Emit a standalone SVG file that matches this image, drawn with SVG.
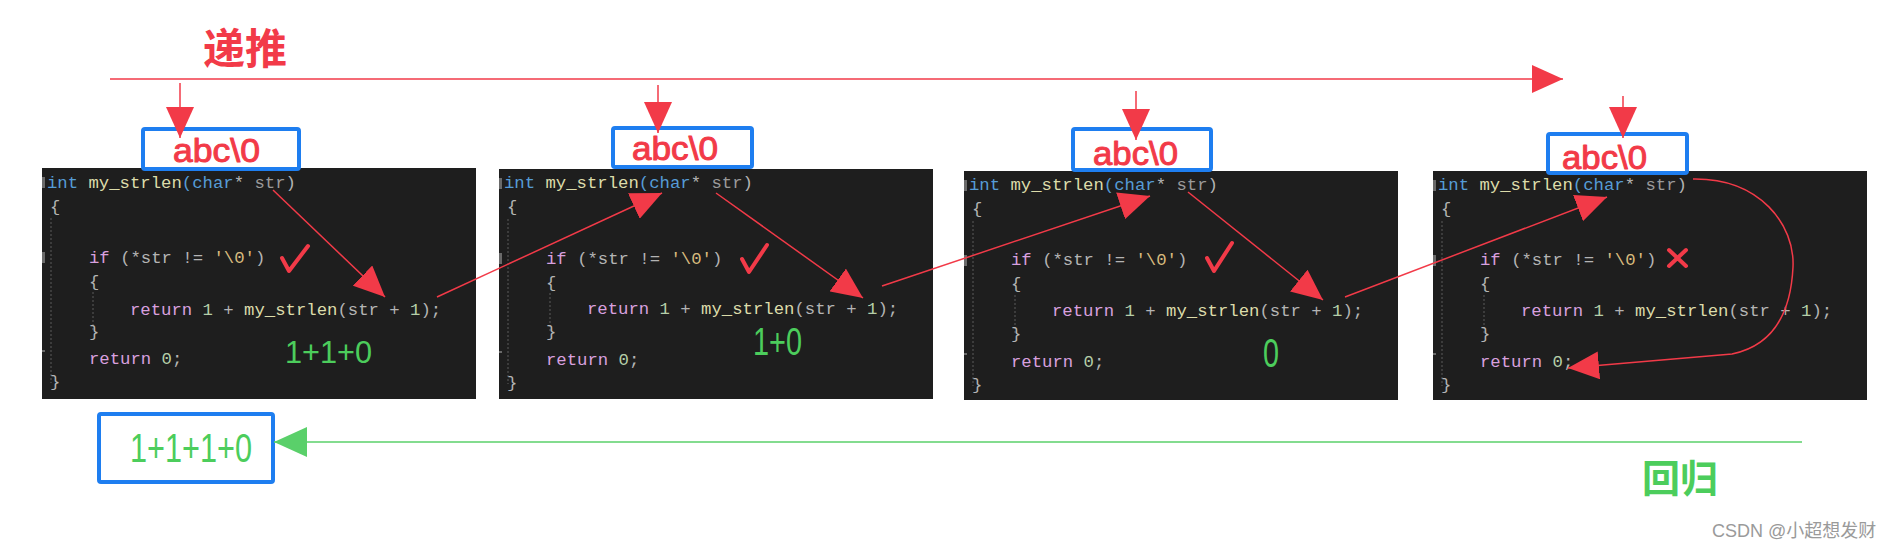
<svg xmlns="http://www.w3.org/2000/svg" width="1899" height="549" viewBox="0 0 1899 549">
<style>
.bg{fill:#1e1e1e}
.code{font-family:"Liberation Mono",monospace;font-size:17.3px;fill:#b4b4b4;stroke:currentColor;stroke-width:0}
.k{fill:#569cd6}.f{fill:#dcdcaa}.p{fill:#b4b4b4}.v{fill:#9a9a9a}.c{fill:#d8a0df}.n{fill:#b5cea8}.s{fill:#d7ba7d}
.guide{stroke:#5a5a5a;stroke-width:1;stroke-dasharray:2 2;fill:none}
.mark{fill:#6a6a6a}
.box{fill:#fff;stroke:#1e7ef0;stroke-width:4}
.hand{font-family:"Liberation Sans",sans-serif;fill:#f23a48;stroke:#f23a48;stroke-width:1;stroke-linejoin:round}
.grn{font-family:"Liberation Sans",sans-serif;fill:#4ccd5c}
.cjk{font-family:"Noto Sans CJK SC",sans-serif;font-weight:bold}
.red{stroke:#f23a48;stroke-width:1.5;fill:none}
.tick{stroke:#f23a48;stroke-width:4;fill:none;stroke-linecap:round;stroke-linejoin:round}
.green{stroke:#5ad06a;stroke-width:1.5;fill:none}
</style>
<defs>
<marker id="ar" markerUnits="userSpaceOnUse" markerWidth="32" markerHeight="28" refX="31" refY="14" orient="auto"><path d="M0,0 L31,14 L0,28 z" fill="#f23a48"/></marker>
<marker id="ag" markerUnits="userSpaceOnUse" markerWidth="34" markerHeight="30" refX="33" refY="15" orient="auto"><path d="M0,0 L33,15 L0,30 z" fill="#5ad06a"/></marker>
</defs>
<rect width="1899" height="549" fill="#fff"/>

<text id="title-push" class="cjk" x="203" y="64" font-size="42" fill="#f23a48">递推</text>
<text id="title-back" class="cjk" x="1642" y="492" font-size="38" fill="#4ccd5c">回归</text>

<g id="panel1" transform="translate(42,168)">
<rect class="bg" width="434" height="231"/>
<rect class="mark" x="0" y="9" width="3" height="11"/><rect class="mark" x="0" y="84" width="3" height="11"/><rect class="mark" x="0" y="182" width="3" height="2"/>
<path class="guide" d="M9,50 V215 M51,124 V162"/>
<g class="code" xml:space="preserve">
<text x="5" y="20"><tspan class="k">int</tspan> <tspan class="f">my_strlen</tspan><tspan class="k">(char</tspan><tspan class="p">*</tspan> <tspan class="v">str</tspan><tspan class="p">)</tspan></text>
<text x="8" y="44">{</text>
<text x="47" y="95"><tspan class="c">if</tspan> <tspan class="p">(*str != </tspan><tspan class="s">'\0'</tspan><tspan class="p">)</tspan></text>
<text x="47" y="119">{</text>
<text x="88" y="147"><tspan class="c">return</tspan> <tspan class="n">1</tspan> <tspan class="p">+</tspan> <tspan class="f">my_strlen</tspan><tspan class="p">(str + </tspan><tspan class="n">1</tspan><tspan class="p">);</tspan></text>
<text x="47" y="169">}</text>
<text x="47" y="196"><tspan class="c">return</tspan> <tspan class="n">0</tspan><tspan class="p">;</tspan></text>
<text x="8" y="219">}</text>
</g>
</g>

<g id="panel2" transform="translate(499,169)">
<rect class="bg" width="434" height="230"/>
<rect class="mark" x="0" y="9" width="3" height="11"/><rect class="mark" x="0" y="84" width="3" height="11"/><rect class="mark" x="0" y="182" width="3" height="2"/>
<path class="guide" d="M9,50 V215 M51,124 V162"/>
<g class="code" xml:space="preserve">
<text x="5" y="19"><tspan class="k">int</tspan> <tspan class="f">my_strlen</tspan><tspan class="k">(char</tspan><tspan class="p">*</tspan> <tspan class="v">str</tspan><tspan class="p">)</tspan></text>
<text x="8" y="43">{</text>
<text x="47" y="95"><tspan class="c">if</tspan> <tspan class="p">(*str != </tspan><tspan class="s">'\0'</tspan><tspan class="p">)</tspan></text>
<text x="47" y="119">{</text>
<text x="88" y="145"><tspan class="c">return</tspan> <tspan class="n">1</tspan> <tspan class="p">+</tspan> <tspan class="f">my_strlen</tspan><tspan class="p">(str + </tspan><tspan class="n">1</tspan><tspan class="p">);</tspan></text>
<text x="47" y="168">}</text>
<text x="47" y="196"><tspan class="c">return</tspan> <tspan class="n">0</tspan><tspan class="p">;</tspan></text>
<text x="8" y="219">}</text>
</g>
</g>

<g id="panel3" transform="translate(964,171)">
<rect class="bg" width="434" height="229"/>
<rect class="mark" x="0" y="9" width="3" height="11"/><rect class="mark" x="0" y="84" width="3" height="11"/><rect class="mark" x="0" y="182" width="3" height="2"/>
<path class="guide" d="M9,50 V215 M51,124 V162"/>
<g class="code" xml:space="preserve">
<text x="5" y="19"><tspan class="k">int</tspan> <tspan class="f">my_strlen</tspan><tspan class="k">(char</tspan><tspan class="p">*</tspan> <tspan class="v">str</tspan><tspan class="p">)</tspan></text>
<text x="8" y="43">{</text>
<text x="47" y="94"><tspan class="c">if</tspan> <tspan class="p">(*str != </tspan><tspan class="s">'\0'</tspan><tspan class="p">)</tspan></text>
<text x="47" y="118">{</text>
<text x="88" y="145"><tspan class="c">return</tspan> <tspan class="n">1</tspan> <tspan class="p">+</tspan> <tspan class="f">my_strlen</tspan><tspan class="p">(str + </tspan><tspan class="n">1</tspan><tspan class="p">);</tspan></text>
<text x="47" y="168">}</text>
<text x="47" y="196"><tspan class="c">return</tspan> <tspan class="n">0</tspan><tspan class="p">;</tspan></text>
<text x="8" y="219">}</text>
</g>
</g>

<g id="panel4" transform="translate(1433,171)">
<rect class="bg" width="434" height="229"/>
<rect class="mark" x="0" y="9" width="3" height="11"/><rect class="mark" x="0" y="84" width="3" height="11"/><rect class="mark" x="0" y="182" width="3" height="2"/>
<path class="guide" d="M9,50 V215 M51,124 V162"/>
<g class="code" xml:space="preserve">
<text x="5" y="19"><tspan class="k">int</tspan> <tspan class="f">my_strlen</tspan><tspan class="k">(char</tspan><tspan class="p">*</tspan> <tspan class="v">str</tspan><tspan class="p">)</tspan></text>
<text x="8" y="43">{</text>
<text x="47" y="94"><tspan class="c">if</tspan> <tspan class="p">(*str != </tspan><tspan class="s">'\0'</tspan><tspan class="p">)</tspan></text>
<text x="47" y="118">{</text>
<text x="88" y="145"><tspan class="c">return</tspan> <tspan class="n">1</tspan> <tspan class="p">+</tspan> <tspan class="f">my_strlen</tspan><tspan class="p">(str + </tspan><tspan class="n">1</tspan><tspan class="p">);</tspan></text>
<text x="47" y="168">}</text>
<text x="47" y="196"><tspan class="c">return</tspan> <tspan class="n">0</tspan><tspan class="p">;</tspan></text>
<text x="8" y="219">}</text>
</g>
</g>

<g id="box1"><rect class="box" x="143" y="129" width="156" height="40" rx="2"/><text class="hand" x="173" y="162" font-size="34" textLength="87" lengthAdjust="spacingAndGlyphs">abc\0</text></g>
<g id="box2"><rect class="box" x="613" y="128" width="139" height="39" rx="2"/><text class="hand" x="632" y="160" font-size="34" textLength="86" lengthAdjust="spacingAndGlyphs">abc\0</text></g>
<g id="box3"><rect class="box" x="1073" y="129" width="138" height="41" rx="2"/><text class="hand" x="1093" y="165" font-size="34" textLength="85" lengthAdjust="spacingAndGlyphs">abc\0</text></g>
<g id="box4"><rect class="box" x="1548" y="134" width="139" height="39" rx="2"/><text class="hand" x="1562" y="169" font-size="34" textLength="85" lengthAdjust="spacingAndGlyphs">abc\0</text></g>
<g id="result"><rect class="box" x="99" y="414" width="174" height="68" rx="2"/><text class="grn" x="130" y="462" font-size="40" textLength="122" lengthAdjust="spacingAndGlyphs">1+1+1+0</text></g>

<g id="annotations">
<path class="tick" d="M282,258 L289,271 L308,246"/>
<path class="tick" d="M742,259 L749,272 L767,245"/>
<path class="tick" d="M1207,258 L1214,271 L1232,243"/>
<path class="tick" d="M1669,250 L1686,266 M1686,250 L1669,266"/>
<text class="grn" x="285" y="363" font-size="32" textLength="87" lengthAdjust="spacingAndGlyphs">1+1+0</text>
<text class="grn" x="753" y="355" font-size="38" textLength="49" lengthAdjust="spacingAndGlyphs">1+0</text>
<text class="grn" x="1263" y="367" font-size="40" textLength="16" lengthAdjust="spacingAndGlyphs">0</text>
</g>

<g id="connectors">
<path class="red" d="M110,79 L1563,79" marker-end="url(#ar)"/>
<path class="red" d="M180,83 L180,138" marker-end="url(#ar)"/>
<path class="red" d="M658,85 L658,133" marker-end="url(#ar)"/>
<path class="red" d="M1136,91 L1136,140" marker-end="url(#ar)"/>
<path class="red" d="M1623,96 L1623,138" marker-end="url(#ar)"/>
<path class="red" d="M273,190 L385,297" marker-end="url(#ar)"/>
<path class="red" d="M437,297 L662,193" marker-end="url(#ar)"/>
<path class="red" d="M716,193 L863,298" marker-end="url(#ar)"/>
<path class="red" d="M882,286 L1150,196" marker-end="url(#ar)"/>
<path class="red" d="M1188,192 L1323,300" marker-end="url(#ar)"/>
<path class="red" d="M1345,297 L1607,197" marker-end="url(#ar)"/>
<path class="red" d="M1693,179 C1760,178 1795,225 1793,267 C1791,310 1775,345 1732,354 L1568,368" marker-end="url(#ar)"/>
<path class="green" d="M1802,442 L274,442" marker-end="url(#ag)"/>
</g>

<text x="1712" y="537" font-family="'Liberation Sans','Noto Sans CJK SC',sans-serif" font-size="18" fill="#9a9a9a">CSDN @小超想发财</text>
</svg>
